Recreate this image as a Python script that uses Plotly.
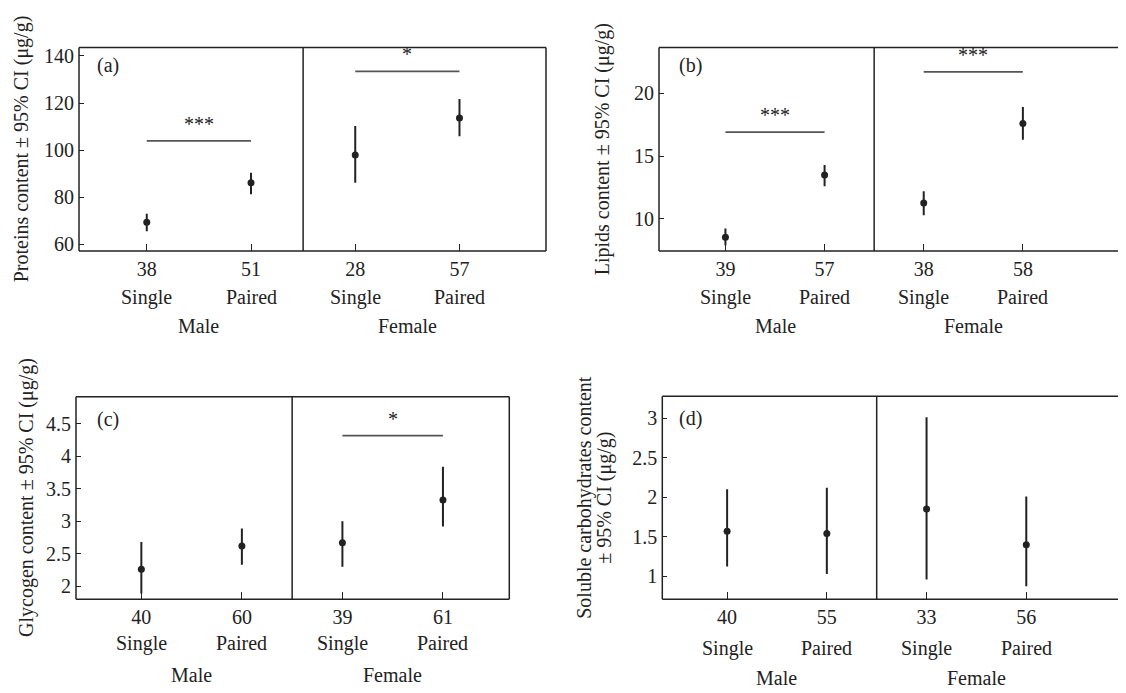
import plotly.graph_objects as go

# ---------------- data ----------------
conditions = ["Single", "Paired", "Single", "Paired"]
sexes = ["Male", "Female"]

protein_n = [38, 51, 28, 57]
protein_mean = [69.4, 86.2, 97.9, 113.6]
protein_lo = [65.6, 81.3, 86.2, 105.9]
protein_hi = [73.0, 90.4, 110.2, 121.7]
protein_sig = [("***", 103.9), ("*", 133.4)]

lipid_n = [39, 57, 38, 58]
lipid_mean = [8.55, 13.5, 11.26, 17.6]
lipid_lo = [7.9, 12.6, 10.3, 16.3]
lipid_hi = [9.24, 14.3, 12.2, 18.9]
lipid_sig = [("***", 16.9), ("***", 21.7)]

glycogen_n = [40, 60, 39, 61]
glycogen_mean = [2.26, 2.62, 2.67, 3.33]
glycogen_lo = [1.89, 2.33, 2.30, 2.92]
glycogen_hi = [2.68, 2.89, 3.00, 3.84]
glycogen_sig = [None, ("*", 4.32)]

carb_n = [40, 55, 33, 56]
carb_mean = [1.57, 1.54, 1.85, 1.40]
carb_lo = [1.125, 1.03, 0.96, 0.875]
carb_hi = [2.10, 2.12, 3.01, 2.01]
carb_sig = [None, None]

protein_ticks = [60, 80, 100, 120, 140]
lipid_ticks = [10, 15, 20]
glycogen_ticks = [2, 2.5, 3, 3.5, 4, 4.5]
carb_ticks = [1, 1.5, 2, 2.5, 3]

positions = [0, 1, 2, 3]

# ---------------- layout settings ----------------
OFF = 8                      # default page margin around the figure
PAGE_W, PAGE_H = 1126, 693
W, H = PAGE_W - OFF, PAGE_H - OFF
FONT = "Liberation Serif"
INK = "#222222"
FS = 20

panels = [
    dict(label="(a)", n=protein_n, mean=protein_mean, lo=protein_lo, hi=protein_hi, sig=protein_sig,
         ticks=protein_ticks, titles=[("Proteins content ± 95% CI (μg/g)", 21)],
         px=(79, 546), py=(45, 250.5), xr=[-0.65, 3.83], yr=[57.2, 143.5],
         right_open=False, lab=(0.034, 0.912), dy=(46, 75)),
    dict(label="(b)", n=lipid_n, mean=lipid_mean, lo=lipid_lo, hi=lipid_hi, sig=lipid_sig,
         ticks=lipid_ticks, titles=[("Lipids content ± 95% CI (μg/g)", 602)],
         px=(659, PAGE_W), py=(45, 250.5), xr=[-0.67, 4.04], yr=[7.45, 23.63],
         right_open=True, lab=(0.039, 0.91), dy=(46, 75)),
    dict(label="(c)", n=glycogen_n, mean=glycogen_mean, lo=glycogen_lo, hi=glycogen_hi, sig=glycogen_sig,
         ticks=glycogen_ticks, titles=[("Glycogen content ± 95% CI (μg/g)", 27)],
         px=(76, 509.3), py=(397.7, 602.3), xr=[-0.65, 3.66], yr=[1.80, 4.92],
         right_open=False, lab=(0.044, 0.888), dy=(44, 76)),
    dict(label="(d)", n=carb_n, mean=carb_mean, lo=carb_lo, hi=carb_hi, sig=carb_sig,
         ticks=carb_ticks, titles=[("Soluble carbohydrates content", 585), ("± 95% CI (μg/g)", 605)],
         px=(662.3, PAGE_W), py=(397.3, 602.3), xr=[-0.65, 4.0], yr=[0.71, 3.275],
         right_open=True, lab=(0.032, 0.893), dy=(49, 79)),
]


def fmt(v):
    return str(int(v)) if float(v).is_integer() else str(v)


fig = go.Figure()
layout = dict(
    width=W, height=H, margin=dict(l=0, r=0, t=0, b=0, pad=0),
    paper_bgcolor="white", plot_bgcolor="white", showlegend=False,
    font=dict(family=FONT, size=FS, color=INK),
)
shapes, annotations = [], []

for i, p in enumerate(panels, start=1):
    suffix = "" if i == 1 else str(i)
    xa, ya = f"x{suffix}", f"y{suffix}"
    xkey, ykey = f"xaxis{suffix}", f"yaxis{suffix}"
    xdom = [(p["px"][0] - OFF) / W, min((p["px"][1] - OFF) / W, 1.0)]
    ydom = [1 - (p["py"][1] - OFF) / H, 1 - (p["py"][0] - OFF) / H]

    layout[xkey] = dict(
        domain=xdom, anchor=ya, range=p["xr"], tickmode="array", tickvals=positions,
        ticktext=[str(v) for v in p["n"]], ticks="inside", ticklen=7, tickwidth=1.3,
        tickcolor=INK, showgrid=False, zeroline=False, showline=False, ticklabelstandoff=4,
        tickfont=dict(family=FONT, size=FS, color=INK),
    )
    layout[ykey] = dict(
        domain=ydom, anchor=xa, range=p["yr"], tickmode="array", tickvals=p["ticks"],
        ticktext=[fmt(v) for v in p["ticks"]], ticks="inside", ticklen=5, tickwidth=1.3,
        tickcolor=INK, showgrid=False, zeroline=False, showline=False, ticklabelstandoff=4,
        tickfont=dict(family=FONT, size=FS, color=INK),
    )

    fig.add_trace(go.Scatter(
        x=positions, y=p["mean"], xaxis=xa, yaxis=ya, mode="markers",
        marker=dict(size=7, color=INK),
        error_y=dict(type="data", symmetric=False,
                     array=[h - m for h, m in zip(p["hi"], p["mean"])],
                     arrayminus=[m - l for m, l in zip(p["mean"], p["lo"])],
                     thickness=2, width=0, color=INK),
    ))

    xd, yd = f"{xa} domain", f"{ya} domain"
    box = dict(type="line", line=dict(color=INK, width=1.5), layer="above")
    shapes.append({**box, "xref": xd, "yref": yd, "x0": 0, "x1": 0, "y0": 0, "y1": 1})
    shapes.append({**box, "xref": xd, "yref": yd, "x0": 0, "x1": 1, "y0": 0, "y1": 0})
    shapes.append({**box, "xref": xd, "yref": yd, "x0": 0, "x1": 1, "y0": 1, "y1": 1})
    if not p["right_open"]:
        shapes.append({**box, "xref": xd, "yref": yd, "x0": 1, "x1": 1, "y0": 0, "y1": 1})
    shapes.append({**box, "xref": xa, "yref": yd, "x0": 1.5, "x1": 1.5, "y0": 0, "y1": 1})

    for g, s in enumerate(p["sig"]):
        if s is None:
            continue
        txt, yv = s
        x0, x1 = positions[2 * g], positions[2 * g + 1]
        shapes.append(dict(type="line", xref=xa, yref=ya, x0=x0, x1=x1, y0=yv, y1=yv,
                           line=dict(color="#555555", width=1.8)))
        annotations.append(dict(xref=xa, yref=ya, x=(x0 + x1) / 2, y=yv, text=txt,
                                showarrow=False, yanchor="middle", yshift=17,
                                font=dict(family=FONT, size=FS, color=INK)))

    d_cond, d_sex = p["dy"]
    for xpos, c in zip(positions, conditions):
        annotations.append(dict(xref=xa, yref=yd, x=xpos, y=0, text=c, showarrow=False,
                                yanchor="middle", yshift=-d_cond,
                                font=dict(family=FONT, size=FS, color=INK)))
    for g, sx in enumerate(sexes):
        annotations.append(dict(xref=xa, yref=yd, x=(positions[2 * g] + positions[2 * g + 1]) / 2,
                                y=0, text=sx, showarrow=False, yanchor="middle", yshift=-d_sex,
                                font=dict(family=FONT, size=FS, color=INK)))

    annotations.append(dict(xref=xd, yref=yd, x=p["lab"][0], y=p["lab"][1], text=p["label"],
                            showarrow=False, xanchor="left", yanchor="middle",
                            font=dict(family=FONT, size=FS, color=INK)))

    for txt, tx in p["titles"]:
        annotations.append(dict(xref="paper", yref=yd, x=(tx - OFF) / W, y=0.5, text=txt,
                                textangle=-90, showarrow=False, xanchor="center", yanchor="middle",
                                font=dict(family=FONT, size=FS, color=INK)))

layout["shapes"] = shapes
layout["annotations"] = annotations
fig.update_layout(**layout)
fig.write_html("out.html")
